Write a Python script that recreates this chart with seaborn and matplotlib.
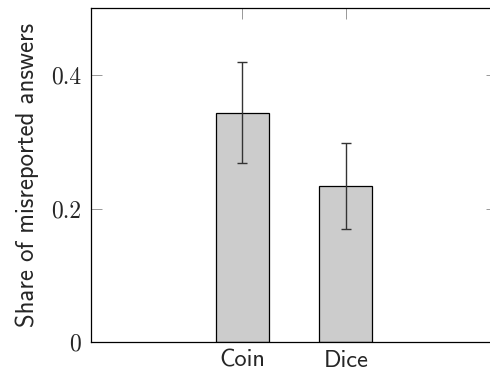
import matplotlib
matplotlib.use("Agg")
import matplotlib.pyplot as plt
import seaborn as sns
import pandas as pd

# Misreporting shares per experimental condition, with error margins
conditions = ["Coin", "Dice"]
shares = [0.344, 0.234]
errors = [0.076, 0.064]
y_ticks = [0, 0.2, 0.4]
y_tick_labels = ["0", "0.2", "0.4"]

sns.set_theme(style="white")
plt.rcParams["font.family"] = ["cmss10", "DejaVu Sans"]
plt.rcParams["axes.unicode_minus"] = False

df = pd.DataFrame({"condition": conditions, "share": shares})

fig = plt.figure(figsize=(4.9, 3.72), dpi=100)
ax = fig.add_axes([91 / 490, 1 - 342.3 / 372, 406 / 490, 334 / 372])

sns.barplot(data=df, x="condition", y="share", order=conditions,
            color="#cccccc", saturation=1, width=0.51,
            edgecolor="black", linewidth=0.9, errorbar=None, ax=ax)

ax.errorbar(x=range(len(conditions)), y=shares, yerr=errors, fmt="none",
            ecolor="#333333", elinewidth=1.0, capsize=3.9, capthick=1.0,
            zorder=3)

ax.set_xlim(-1.463, 2.463)
ax.set_ylim(0, 0.5)
ax.set_axisbelow(True)

ax.set_yticks(y_ticks)
ax.set_yticklabels(y_tick_labels, family="cmr10", fontsize=17)
ax.set_xticks(range(len(conditions)))
ax.set_xticklabels(conditions, fontsize=17.5)

ax.tick_params(axis="both", direction="in", length=8, width=0.6,
               color="#888888", top=True, right=True, bottom=True, left=True)
ax.tick_params(axis="y", pad=7)
ax.tick_params(axis="x", pad=5.5)

for side in ["left", "right", "top", "bottom"]:
    ax.spines[side].set_visible(True)
    ax.spines[side].set_color("black")
    ax.spines[side].set_linewidth(0.9)

ax.set_xlabel("")
ax.set_ylabel("Share of misreported answers", fontsize=17.8, labelpad=9)
ax.grid(False)

fig.savefig("out.png", dpi=100)
